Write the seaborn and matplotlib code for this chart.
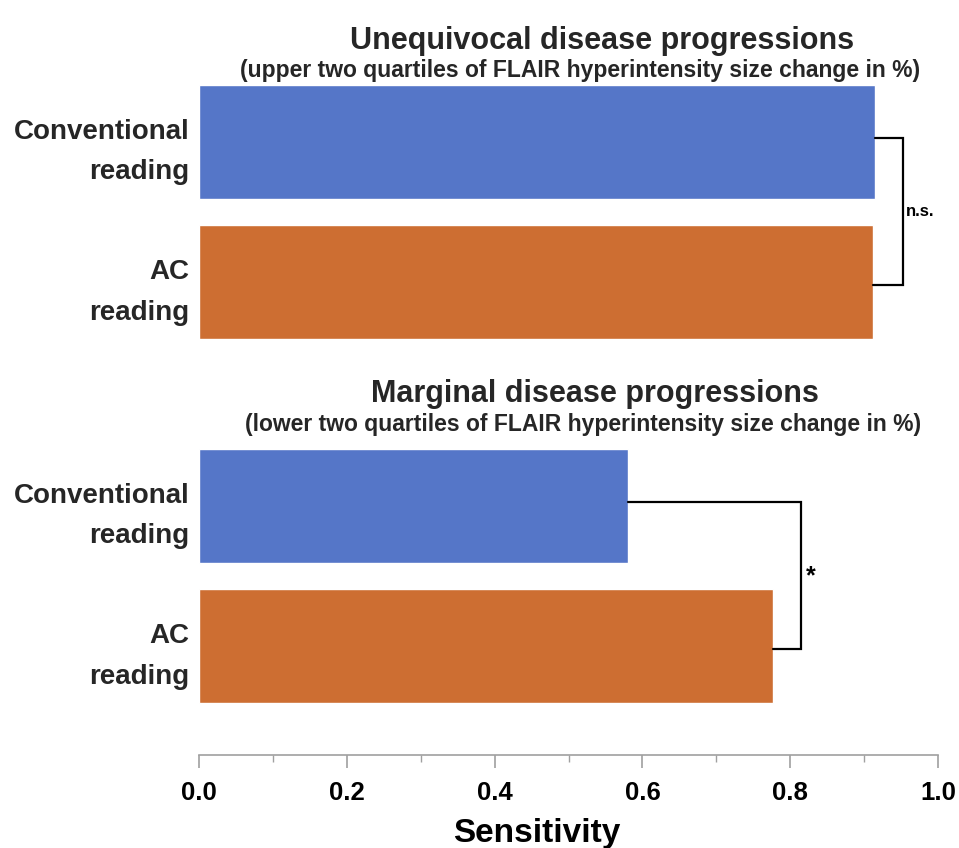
import matplotlib
matplotlib.use("Agg")
import matplotlib.pyplot as plt
from matplotlib.ticker import MultipleLocator
import seaborn as sns
import pandas as pd

# ---- data ----
categories = ["Conventional\nreading", "AC\nreading"]
unequivocal_values = [0.915, 0.912]
marginal_values = [0.580, 0.777]
panel_titles = ["Unequivocal disease progressions", "Marginal disease progressions"]
panel_subtitles = ["(upper two quartiles of FLAIR hyperintensity size change in %)",
                   "(lower two quartiles of FLAIR hyperintensity size change in %)"]
significance = ["n.s.", "*"]
xticks = [0.0, 0.2, 0.4, 0.6, 0.8, 1.0]

sns.set_theme(style="white")
plt.rcParams["font.family"] = ["Liberation Sans", "DejaVu Sans"]
plt.rcParams["font.weight"] = "bold"

TXT = "#262626"
BLUE = "#5576C8"
ORANGE = "#CD6E32"
W, H = 959, 848
fig = plt.figure(figsize=(W / 100, H / 100), dpi=100)

def fx(px):
    return px / W

def fy(py):
    return 1 - py / H

ax_top = fig.add_axes([fx(199), fy(339), fx(739), 254 / H])
ax_bot = fig.add_axes([fx(199), fy(755), fx(739), (755 - 449) / H])

panels = [
    (ax_top, unequivocal_values, (1.405, -0.405)),
    (ax_bot, marginal_values, (1.776, -0.405)),
]

for i, (ax, vals, ylim) in enumerate(panels):
    df = pd.DataFrame({"reading": categories, "sensitivity": vals})
    sns.barplot(data=df, x="sensitivity", y="reading", hue="reading",
                palette=[BLUE, ORANGE], orient="h", width=0.81,
                legend=False, ax=ax, saturation=1)
    ax.set_xlim(0, 1)
    ax.set_ylim(*ylim)
    ax.set_ylabel("")
    for s in ["top", "right", "left"]:
        ax.spines[s].set_visible(False)
    ax.tick_params(axis="y", length=0, pad=7)
    for lab in ax.get_yticklabels():
        lab.set_fontsize(20)
        lab.set_fontweight("bold")
        lab.set_color(TXT)
        lab.set_ha("right")
        lab.set_linespacing(1.72)

    # significance bracket
    xb = max(vals) + 0.038
    ax.plot([vals[0], xb, xb, vals[1]], [-0.03, -0.03, 1.02, 1.02], color="black", lw=1.6,
            solid_joinstyle="miter", clip_on=False)
    if significance[i] == "*":
        ax.text(xb + 0.006, 0.5, significance[i], fontsize=18, fontweight="bold",
                color="black", va="center", ha="left")
    else:
        ax.text(xb + 0.004, 0.5, significance[i], fontsize=12, fontweight="bold",
                color="black", va="center", ha="left")

ax_top.spines["bottom"].set_visible(False)
ax_top.set_xticks([])
ax_top.set_xlabel("")

ax_bot.spines["bottom"].set_color("#a0a0a0")
ax_bot.spines["bottom"].set_linewidth(1.2)
ax_bot.set_xticks(xticks)
ax_bot.set_xticklabels([f"{t:.1f}" for t in xticks])
ax_bot.xaxis.set_minor_locator(MultipleLocator(0.1))
ax_bot.tick_params(axis="x", which="major", bottom=True, direction="out", length=9,
                   width=1.2, color="#a0a0a0", pad=10, labelsize=18.5, labelcolor="black")
ax_bot.tick_params(axis="x", which="minor", bottom=True, direction="out", length=5,
                   width=1.0, color="#a0a0a0")
for lab in ax_bot.get_xticklabels():
    lab.set_fontweight("bold")
ax_bot.set_xlabel("Sensitivity", fontsize=24, fontweight="bold", color="black")
ax_bot.xaxis.set_label_coords(0.457, -0.255)
ax_bot.xaxis.label.set_va("center")

# titles
fig.text(fx(602), fy(41), panel_titles[0], ha="center", va="center",
         fontsize=22, fontweight="bold", color=TXT)
fig.text(fx(580), fy(70), panel_subtitles[0], ha="center", va="center",
         fontsize=16.5, fontweight="bold", color=TXT)
fig.text(fx(595), fy(394), panel_titles[1], ha="center", va="center",
         fontsize=22, fontweight="bold", color=TXT)
fig.text(fx(583), fy(424), panel_subtitles[1], ha="center", va="center",
         fontsize=16.5, fontweight="bold", color=TXT)

fig.savefig("out.png", dpi=100, facecolor="white")
